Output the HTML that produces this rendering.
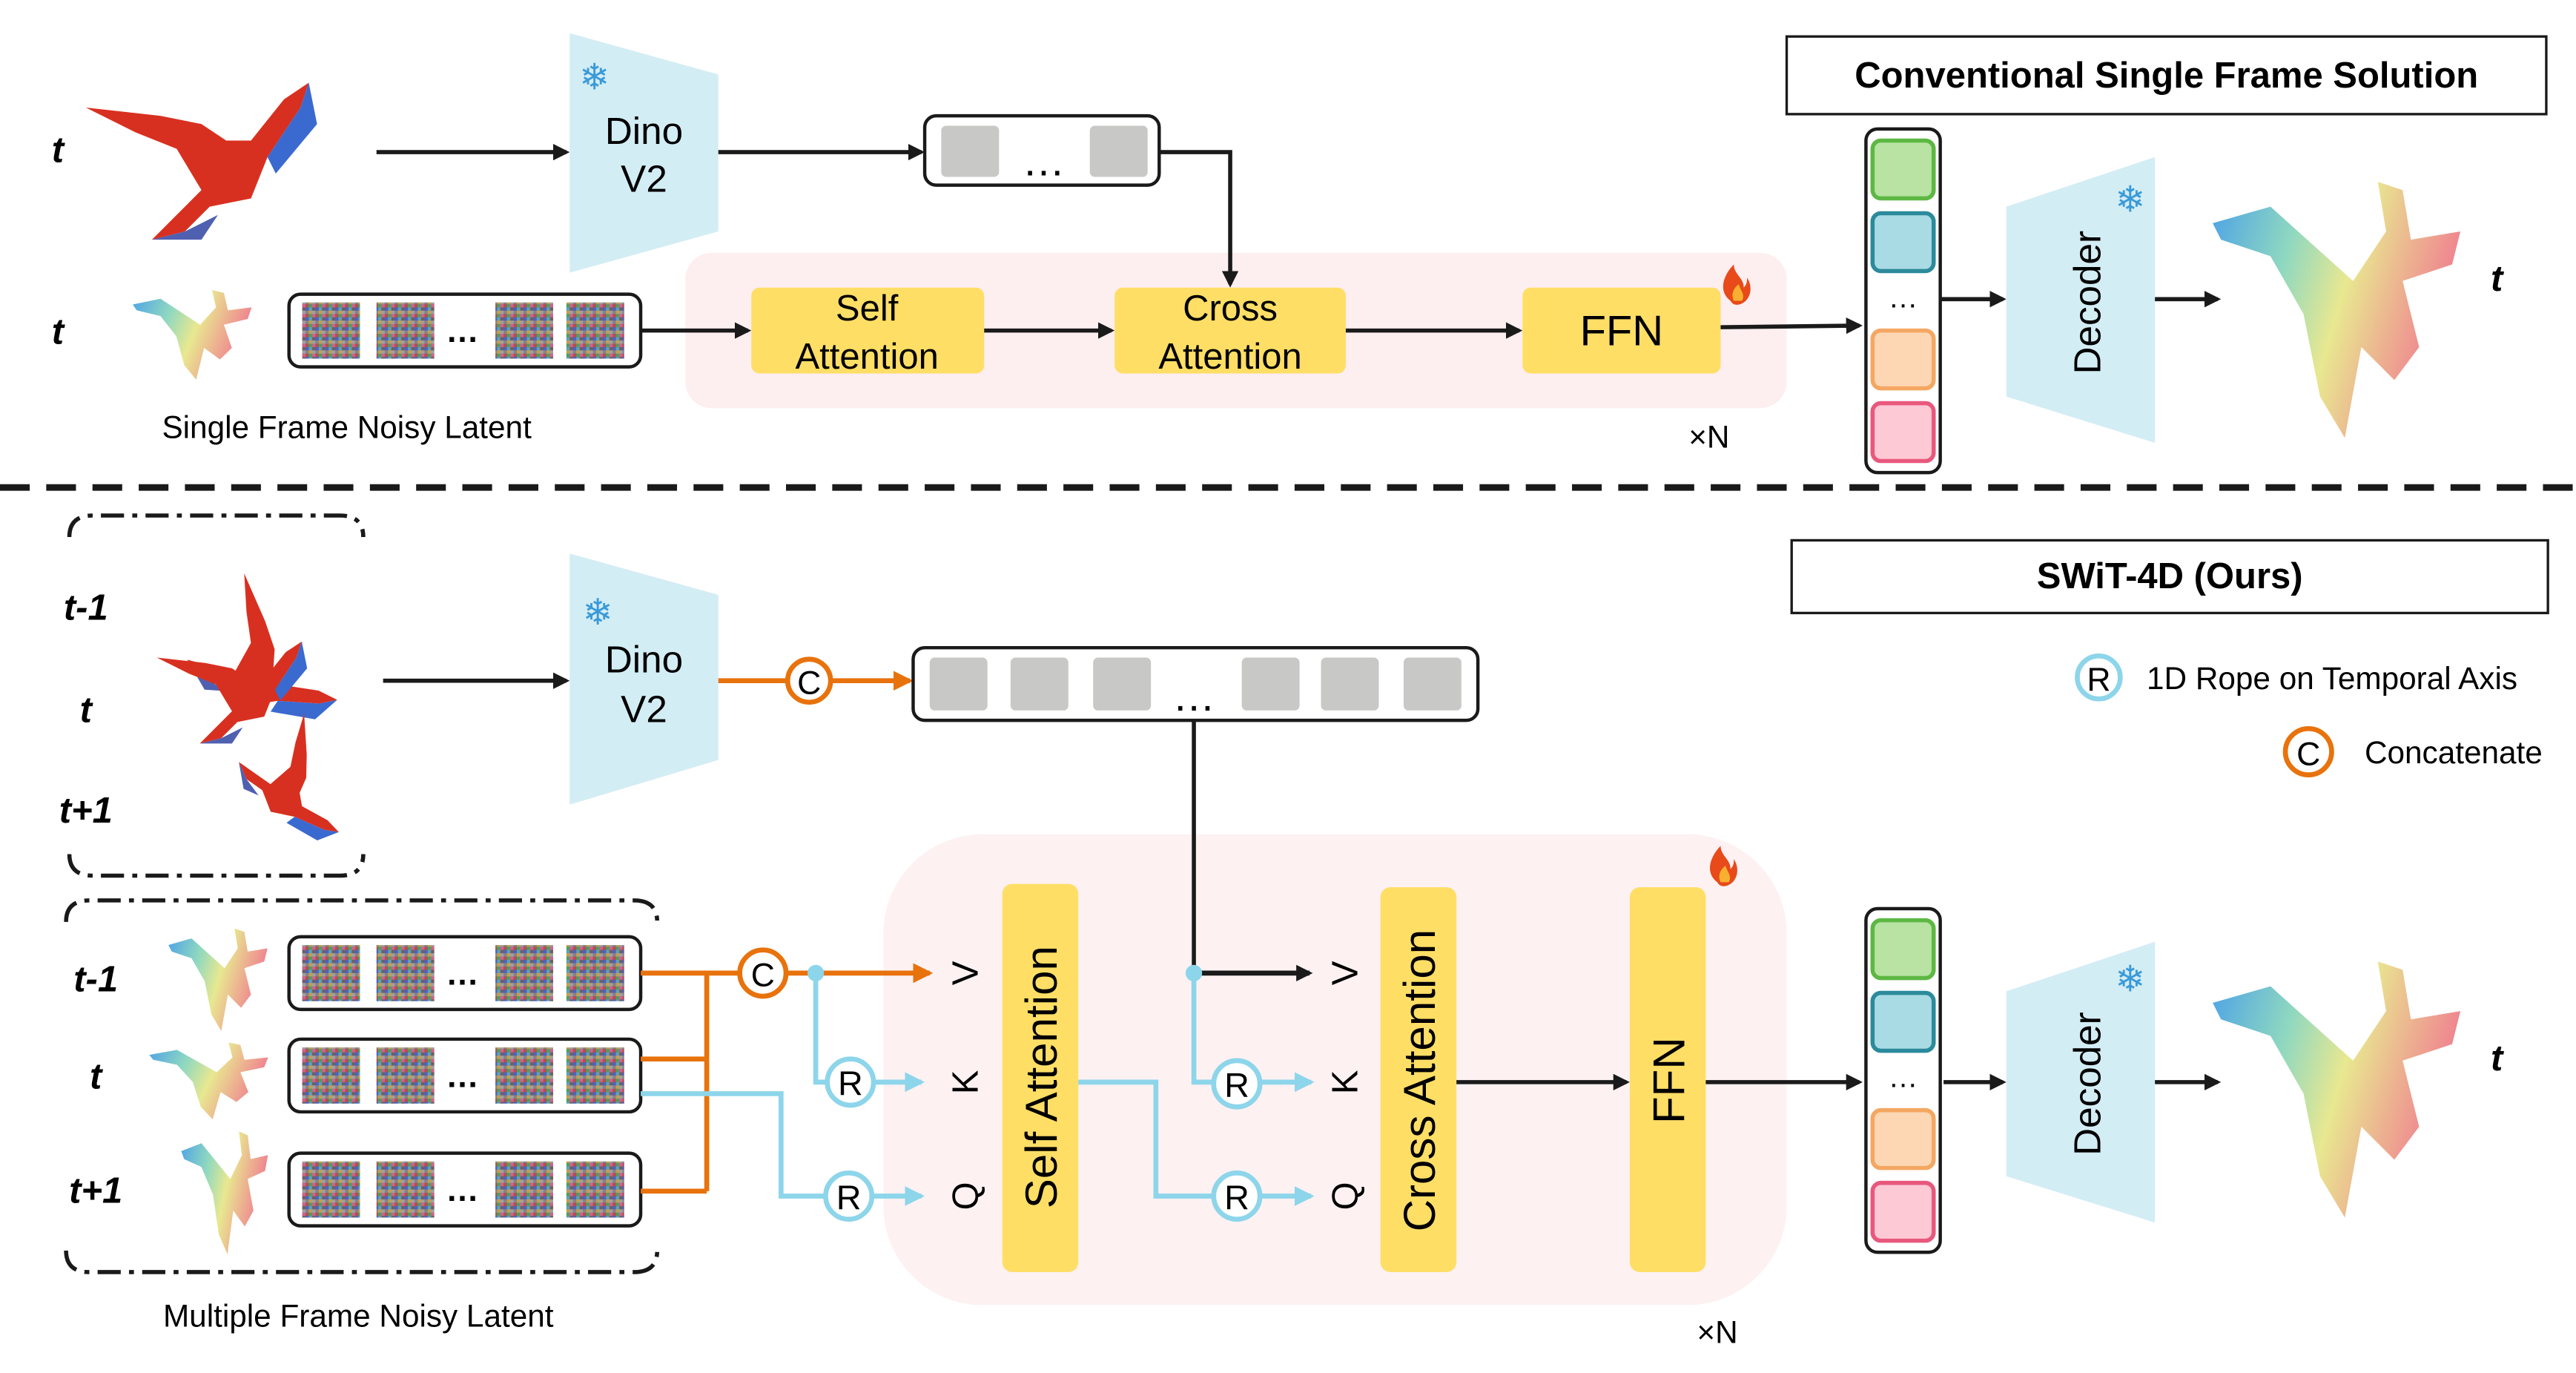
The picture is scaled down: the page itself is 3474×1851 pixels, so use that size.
<!DOCTYPE html>
<html><head><meta charset="utf-8"><style>
html,body{margin:0;padding:0;background:#fff;}
svg{display:block;}
text{font-family:"Liberation Sans",sans-serif;}
</style></head><body>
<svg width="3474" height="1851" viewBox="0 0 1560 831" xmlns="http://www.w3.org/2000/svg">
<defs>
<pattern id="nz" width="6" height="6" patternUnits="userSpaceOnUse">
<rect width="6" height="6" fill="#8a8088"/>
<rect x="0" y="0" width="2" height="2" fill="#4aa060"/><rect x="2" y="0" width="2" height="2" fill="#d06090"/>
<rect x="4" y="2" width="2" height="2" fill="#5060c0"/><rect x="0" y="4" width="2" height="2" fill="#c0a050"/>
<rect x="2" y="4" width="2" height="2" fill="#a0a0a0"/><rect x="2" y="2" width="2" height="2" fill="#706060"/>
<rect x="4" y="0" width="2" height="2" fill="#b05050"/><rect x="0" y="2" width="2" height="2" fill="#60a0b0"/>
</pattern>
<linearGradient id="mg" x1="0" y1="0" x2="1" y2="0.3">
<stop offset="0" stop-color="#4aa0e8"/><stop offset="0.35" stop-color="#8fd8c0"/><stop offset="0.6" stop-color="#e8e890"/><stop offset="1" stop-color="#f08090"/></linearGradient>
<marker id="ak" markerWidth="10" markerHeight="10" refX="8" refY="5" orient="auto" markerUnits="userSpaceOnUse"><path d="M0,0 L10,5 L0,10 z" fill="#1a1a1a"/></marker>
<marker id="ao" markerWidth="12" markerHeight="12" refX="10" refY="6" orient="auto" markerUnits="userSpaceOnUse"><path d="M0,0 L12,6 L0,12 z" fill="#e8720c"/></marker>
<marker id="ab" markerWidth="12" markerHeight="12" refX="10" refY="6" orient="auto" markerUnits="userSpaceOnUse"><path d="M0,0 L12,6 L0,12 z" fill="#8dd5ea"/></marker>
<g id="noise"><rect x="0" y="0" width="213" height="44" rx="7" fill="#fff" stroke="#1a1a1a" stroke-width="2"/>
<rect x="8" y="5" width="35" height="34" fill="url(#nz)"/><rect x="53" y="5" width="35" height="34" fill="url(#nz)"/>
<text x="105" y="29" font-size="20" text-anchor="middle" font-weight="bold">…</text>
<rect x="125" y="5" width="35" height="34" fill="url(#nz)"/><rect x="168" y="5" width="35" height="34" fill="url(#nz)"/></g>
<g id="tokcol"><rect x="0" y="0" width="45" height="208" rx="7" fill="#fff" stroke="#1a1a1a" stroke-width="2"/>
<rect x="4" y="7" width="37" height="35" rx="5" fill="#b8e3a3" stroke="#5db843" stroke-width="2.5"/>
<rect x="4" y="51" width="37" height="35" rx="5" fill="#a9dbe4" stroke="#2b8a9b" stroke-width="2.5"/>
<text x="22.5" y="108" font-size="18" text-anchor="middle">…</text>
<rect x="4" y="122" width="37" height="35" rx="5" fill="#fdd7b4" stroke="#f4a762" stroke-width="2.5"/>
<rect x="4" y="166" width="37" height="35" rx="5" fill="#fdc9d5" stroke="#e8587d" stroke-width="2.5"/></g>
<g id="mesh"><path d="M5,35 L40,25 L90,70 L110,40 L105,10 L120,15 L125,45 L155,40 L150,60 L120,70 L130,110 L115,130 L95,110 L85,165 L70,140 L60,90 L40,55 L10,45 z" fill="url(#mg)"/></g>
<g id="bird"><path d="M0,20 L30,35 L55,45 L70,70 L50,90 L40,100 L60,95 L75,80 L100,75 L110,50 L130,20 L135,5 L120,15 L100,40 L85,40 L70,30 L45,25 z" fill="#d83020"/><path d="M110,50 L130,20 L135,5 L140,30 L115,60z" fill="#3a6ad0"/><path d="M40,100 L60,95 L80,85 L70,100z" fill="#5060b0"/></g>
<g id="snow"><text x="0" y="0" font-size="22" fill="#3a9ad8" text-anchor="middle" font-family="DejaVu Sans">❄</text></g>
<g id="fire"><path d="M0,10 C-8,4 -4,-6 2,-12 C2,-6 8,-4 8,2 C10,0 10,-2 10,-4 C14,2 12,10 6,12 C3,13 1,12 0,10z" fill="#e84a1a"/><path d="M2,10 C0,6 2,2 5,0 C6,4 9,6 7,10z" fill="#f8b030"/></g>
</defs>

<!-- ===== TOP ===== -->
<rect x="1082" y="22" width="460" height="47" fill="#fff" stroke="#1a1a1a" stroke-width="1.5"/>
<text x="1312" y="53" font-size="22" font-weight="bold" text-anchor="middle">Conventional Single Frame Solution</text>

<text x="35" y="98" font-size="22" font-weight="bold" font-style="italic" text-anchor="middle">t</text>
<text x="35" y="208" font-size="22" font-weight="bold" font-style="italic" text-anchor="middle">t</text>
<use href="#bird" transform="translate(52,45)"/>
<use href="#mesh" transform="translate(78,172) scale(0.48,0.35)"/>

<rect x="415" y="153" width="667" height="94" rx="16" fill="#fdeef0"/>
<use href="#fire" transform="translate(1048,172)"/>

<line x1="228" y1="92" x2="343" y2="92" stroke="#1a1a1a" stroke-width="2.5" marker-end="url(#ak)"/>
<path d="M345,20 L435,45 L435,140 L345,165 z" fill="#d3edf4"/>
<use href="#snow" transform="translate(360,54)"/>
<text x="390" y="87" font-size="23" text-anchor="middle">Dino</text>
<text x="390" y="116" font-size="23" text-anchor="middle">V2</text>
<line x1="435" y1="92" x2="558" y2="92" stroke="#1a1a1a" stroke-width="2.5" marker-end="url(#ak)"/>
<rect x="560" y="70" width="142" height="42" rx="7" fill="#fff" stroke="#1a1a1a" stroke-width="2"/>
<rect x="570" y="76" width="35" height="31" rx="3" fill="#c8c8c6"/><rect x="660" y="76" width="35" height="31" rx="3" fill="#c8c8c6"/>
<text x="632" y="106" font-size="26" text-anchor="middle">…</text>
<path d="M702,92 L745,92 L745,172" fill="none" stroke="#1a1a1a" stroke-width="2.5" marker-end="url(#ak)"/>

<use href="#noise" transform="translate(175,178)"/>
<text x="210" y="265" font-size="19" text-anchor="middle">Single Frame Noisy Latent</text>
<line x1="388" y1="200" x2="453" y2="200" stroke="#1a1a1a" stroke-width="2.5" marker-end="url(#ak)"/>
<rect x="455" y="174" width="141" height="52" rx="5" fill="#ffde66"/>
<text x="525" y="194" font-size="22" text-anchor="middle">Self</text>
<text x="525" y="223" font-size="22" text-anchor="middle">Attention</text>
<line x1="596" y1="200" x2="673" y2="200" stroke="#1a1a1a" stroke-width="2.5" marker-end="url(#ak)"/>
<rect x="675" y="174" width="140" height="52" rx="5" fill="#ffde66"/>
<text x="745" y="194" font-size="22" text-anchor="middle">Cross</text>
<text x="745" y="223" font-size="22" text-anchor="middle">Attention</text>
<line x1="815" y1="200" x2="920" y2="200" stroke="#1a1a1a" stroke-width="2.5" marker-end="url(#ak)"/>
<rect x="922" y="174" width="120" height="52" rx="5" fill="#ffde66"/>
<text x="982" y="209" font-size="26" text-anchor="middle">FFN</text>
<line x1="1042" y1="198" x2="1126" y2="197" stroke="#1a1a1a" stroke-width="2.5" marker-end="url(#ak)"/>
<text x="1035" y="271" font-size="19" text-anchor="middle">×N</text>
<use href="#tokcol" transform="translate(1130,78)"/>
<line x1="1175" y1="181" x2="1213" y2="181" stroke="#1a1a1a" stroke-width="2.5" marker-end="url(#ak)"/>
<path d="M1215,125 L1305,95 L1305,268 L1215,240 z" fill="#d3edf4"/>
<use href="#snow" transform="translate(1290,128)"/>
<text transform="translate(1272,183) rotate(-90)" font-size="23" text-anchor="middle">Decoder</text>
<line x1="1305" y1="181" x2="1343" y2="181" stroke="#1a1a1a" stroke-width="2.5" marker-end="url(#ak)"/>
<use href="#mesh" transform="translate(1335,100)"/>
<text x="1512" y="176" font-size="22" font-weight="bold" font-style="italic" text-anchor="middle">t</text>

<line x1="0" y1="295" x2="1560" y2="295" stroke="#1a1a1a" stroke-width="4" stroke-dasharray="18,10"/>

<!-- ===== BOTTOM ===== -->
<rect x="1085" y="327" width="458" height="44" fill="#fff" stroke="#1a1a1a" stroke-width="1.5"/>
<text x="1314" y="356" font-size="22" font-weight="bold" text-anchor="middle">SWiT-4D (Ours)</text>
<circle cx="1271" cy="410" r="13" fill="#fff" stroke="#8dd5ea" stroke-width="3"/>
<text x="1271" y="418" font-size="20" text-anchor="middle">R</text>
<text x="1300" y="417" font-size="19">1D Rope on Temporal Axis</text>
<circle cx="1398" cy="455" r="14" fill="#fff" stroke="#e8720c" stroke-width="3"/>
<text x="1398" y="463" font-size="20" text-anchor="middle">C</text>
<text x="1432" y="462" font-size="19">Concatenate</text>

<path d="M42,325 Q42,312 56,312 L206,312 Q220,312 220,325 M42,517 Q42,530 56,530 L206,530 Q220,530 220,517" fill="none" stroke="#1a1a1a" stroke-width="2.5" stroke-dasharray="14,5,3,5"/>
<text x="52" y="375" font-size="22" font-weight="bold" font-style="italic" text-anchor="middle">t-1</text>
<text x="52" y="437" font-size="22" font-weight="bold" font-style="italic" text-anchor="middle">t</text>
<text x="52" y="498" font-size="22" font-weight="bold" font-style="italic" text-anchor="middle">t+1</text>
<use href="#bird" transform="translate(160,340) rotate(60) scale(0.7)"/>
<use href="#bird" transform="translate(95,385) scale(0.65)"/>
<use href="#bird" transform="translate(195,430) rotate(80) scale(0.55)"/>

<line x1="232" y1="412" x2="343" y2="412" stroke="#1a1a1a" stroke-width="2.5" marker-end="url(#ak)"/>
<path d="M345,335 L435,360 L435,460 L345,487 z" fill="#d3edf4"/>
<use href="#snow" transform="translate(362,378)"/>
<text x="390" y="407" font-size="23" text-anchor="middle">Dino</text>
<text x="390" y="437" font-size="23" text-anchor="middle">V2</text>
<line x1="435" y1="412" x2="476" y2="412" stroke="#e8720c" stroke-width="3"/>
<line x1="503" y1="412" x2="551" y2="412" stroke="#e8720c" stroke-width="3" marker-end="url(#ao)"/>
<circle cx="490" cy="412" r="13" fill="#fff" stroke="#e8720c" stroke-width="3"/>
<text x="490" y="420" font-size="20" text-anchor="middle">C</text>
<rect x="553" y="392" width="342" height="44" rx="7" fill="#fff" stroke="#1a1a1a" stroke-width="2"/>
<rect x="563" y="398" width="35" height="32" rx="3" fill="#c8c8c6"/><rect x="612" y="398" width="35" height="32" rx="3" fill="#c8c8c6"/><rect x="662" y="398" width="35" height="32" rx="3" fill="#c8c8c6"/>
<rect x="752" y="398" width="35" height="32" rx="3" fill="#c8c8c6"/><rect x="800" y="398" width="35" height="32" rx="3" fill="#c8c8c6"/><rect x="850" y="398" width="35" height="32" rx="3" fill="#c8c8c6"/>
<text x="723" y="430" font-size="26" text-anchor="middle">…</text>

<rect x="535" y="505" width="547" height="285" rx="60" fill="#fdf1f2"/>
<use href="#fire" transform="translate(1040,524)"/>

<path d="M40,558 Q40,545 54,545 L384,545 Q398,545 398,558 M40,757 Q40,770 54,770 L384,770 Q398,770 398,757" fill="none" stroke="#1a1a1a" stroke-width="2.5" stroke-dasharray="14,5,3,5"/>
<text x="58" y="600" font-size="22" font-weight="bold" font-style="italic" text-anchor="middle">t-1</text>
<text x="58" y="659" font-size="22" font-weight="bold" font-style="italic" text-anchor="middle">t</text>
<text x="58" y="728" font-size="22" font-weight="bold" font-style="italic" text-anchor="middle">t+1</text>
<use href="#mesh" transform="translate(100,558) scale(0.4,0.4)"/>
<use href="#mesh" transform="translate(88,628) scale(0.48,0.3)"/>
<use href="#mesh" transform="translate(108,680) scale(0.35,0.48)"/>
<use href="#noise" transform="translate(175,567)"/>
<use href="#noise" transform="translate(175,629)"/>
<use href="#noise" transform="translate(175,698)"/>
<text x="217" y="803" font-size="19" text-anchor="middle">Multiple Frame Noisy Latent</text>

<path d="M388,589 L448,589 M388,641 L428,641 M388,721 L428,721 M428,589 L428,721" fill="none" stroke="#e8720c" stroke-width="3"/>
<line x1="476" y1="589" x2="563" y2="589" stroke="#e8720c" stroke-width="3" marker-end="url(#ao)"/>
<circle cx="462" cy="589" r="14" fill="#fff" stroke="#e8720c" stroke-width="3"/>
<text x="462" y="597" font-size="20" text-anchor="middle">C</text>
<path d="M388,662 L473,662 L473,724 L500,724" fill="none" stroke="#8dd5ea" stroke-width="3"/>
<path d="M494,589 L494,655 L501,655" fill="none" stroke="#8dd5ea" stroke-width="3"/>
<circle cx="494" cy="589" r="5" fill="#8dd5ea"/>
<line x1="529" y1="655" x2="558" y2="655" stroke="#8dd5ea" stroke-width="3" marker-end="url(#ab)"/>
<line x1="528" y1="724" x2="558" y2="724" stroke="#8dd5ea" stroke-width="3" marker-end="url(#ab)"/>
<circle cx="515" cy="655" r="14" fill="#fff" stroke="#8dd5ea" stroke-width="3"/><text x="515" y="663" font-size="21" text-anchor="middle">R</text>
<circle cx="514" cy="724" r="14" fill="#fff" stroke="#8dd5ea" stroke-width="3"/><text x="514" y="732" font-size="21" text-anchor="middle">R</text>
<g font-size="22" text-anchor="middle">
<text transform="translate(592,589) rotate(-90)">V</text>
<text transform="translate(592,655) rotate(-90)">K</text>
<text transform="translate(592,724) rotate(-90)">Q</text>
<text transform="translate(822,589) rotate(-90)">V</text>
<text transform="translate(822,655) rotate(-90)">K</text>
<text transform="translate(822,724) rotate(-90)">Q</text>
</g>
<rect x="607" y="535" width="46" height="235" rx="6" fill="#ffde66"/>
<text transform="translate(640,652) rotate(-90)" font-size="27" text-anchor="middle">Self Attention</text>

<path d="M653,655 L700,655 L700,724 L735,724" fill="none" stroke="#8dd5ea" stroke-width="3"/>
<line x1="723" y1="436" x2="723" y2="589" stroke="#1a1a1a" stroke-width="2.5"/>
<line x1="723" y1="589" x2="793" y2="589" stroke="#1a1a1a" stroke-width="3" marker-end="url(#ak)"/>
<path d="M723,589 L723,655 L735,655" fill="none" stroke="#8dd5ea" stroke-width="3"/>
<circle cx="723" cy="589" r="5" fill="#8dd5ea"/>
<line x1="763" y1="655" x2="794" y2="655" stroke="#8dd5ea" stroke-width="3" marker-end="url(#ab)"/>
<line x1="763" y1="724" x2="794" y2="724" stroke="#8dd5ea" stroke-width="3" marker-end="url(#ab)"/>
<circle cx="749" cy="656" r="14" fill="#fff" stroke="#8dd5ea" stroke-width="3"/><text x="749" y="664" font-size="21" text-anchor="middle">R</text>
<circle cx="749" cy="724" r="14" fill="#fff" stroke="#8dd5ea" stroke-width="3"/><text x="749" y="732" font-size="21" text-anchor="middle">R</text>

<rect x="836" y="537" width="46" height="233" rx="6" fill="#ffde66"/>
<text transform="translate(869,654) rotate(-90)" font-size="27" text-anchor="middle">Cross Attention</text>
<line x1="882" y1="655" x2="985" y2="655" stroke="#1a1a1a" stroke-width="2.5" marker-end="url(#ak)"/>
<rect x="987" y="537" width="46" height="233" rx="6" fill="#ffde66"/>
<text transform="translate(1020,654) rotate(-90)" font-size="27" text-anchor="middle">FFN</text>
<line x1="1033" y1="655" x2="1126" y2="655" stroke="#1a1a1a" stroke-width="2.5" marker-end="url(#ak)"/>
<text x="1040" y="813" font-size="19" text-anchor="middle">×N</text>

<use href="#tokcol" transform="translate(1130,550)"/>
<line x1="1177" y1="655" x2="1213" y2="655" stroke="#1a1a1a" stroke-width="2.5" marker-end="url(#ak)"/>
<path d="M1215,600 L1305,570 L1305,740 L1215,712 z" fill="#d3edf4"/>
<use href="#snow" transform="translate(1290,600)"/>
<text transform="translate(1272,656) rotate(-90)" font-size="23" text-anchor="middle">Decoder</text>
<line x1="1305" y1="655" x2="1343" y2="655" stroke="#1a1a1a" stroke-width="2.5" marker-end="url(#ak)"/>
<use href="#mesh" transform="translate(1335,572)"/>
<text x="1512" y="648" font-size="22" font-weight="bold" font-style="italic" text-anchor="middle">t</text>
</svg>
</body></html>
